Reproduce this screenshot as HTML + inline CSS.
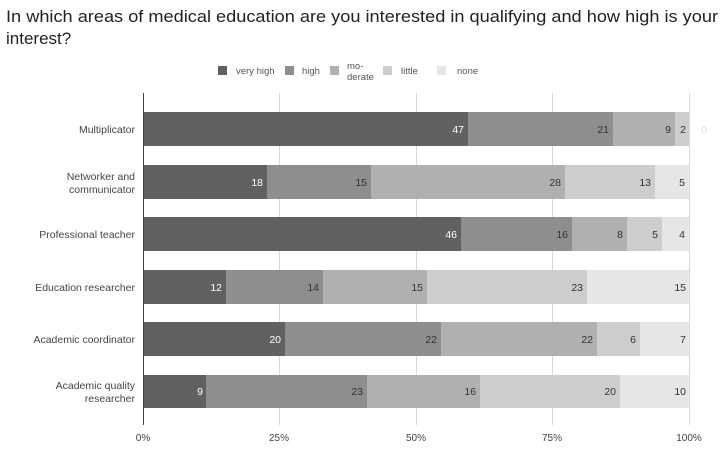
<!DOCTYPE html>
<html><head><meta charset="utf-8"><style>
html,body{margin:0;padding:0;background:#fff;}
svg{display:block;font-family:"Liberation Sans",sans-serif;}
</style></head><body>
<svg width="724" height="450" viewBox="0 0 724 450" xmlns="http://www.w3.org/2000/svg">
<text x="6" y="22" font-size="17" fill="#222" textLength="712" lengthAdjust="spacingAndGlyphs">In which areas of medical education are you interested in qualifying and how high is your</text>
<text x="6" y="44" font-size="17" fill="#222">interest?</text>
<!-- legend -->
<g font-size="9.5" fill="#555">
<rect x="218" y="66" width="9" height="9" fill="#616161"/><text x="236" y="74">very high</text>
<rect x="285" y="66" width="9" height="9" fill="#8e8e8e"/><text x="302" y="74">high</text>
<rect x="330" y="66" width="9" height="9" fill="#b0b0b0"/><text x="347" y="69">mo-</text><text x="347" y="80">derate</text>
<rect x="383" y="66" width="9" height="9" fill="#cdcdcd"/><text x="401" y="74">little</text>
<rect x="437" y="66" width="9" height="9" fill="#e6e6e6"/><text x="457" y="74">none</text>
</g>
<!-- grid -->
<g stroke="#d8d8d8" stroke-width="1">
<line x1="279.5" y1="93" x2="279.5" y2="425"/>
<line x1="416.5" y1="93" x2="416.5" y2="425"/>
<line x1="552.5" y1="93" x2="552.5" y2="425"/>
<line x1="689.5" y1="93" x2="689.5" y2="425"/>
</g>
<g font-size="10.5" text-anchor="end">
<!-- row1 -->
<rect x="143" y="112" width="325" height="34" fill="#616161"/>
<rect x="468" y="112" width="145" height="34" fill="#8e8e8e"/>
<rect x="613" y="112" width="62" height="34" fill="#b0b0b0"/>
<rect x="675" y="112" width="14" height="34" fill="#cdcdcd"/>
<text x="464" y="133" fill="#fff">47</text><text x="609" y="133" fill="#333">21</text><text x="671" y="133" fill="#333">9</text><text x="686" y="133" fill="#333">2</text><text x="707" y="133" fill="#ddd">0</text>
<!-- row2 -->
<rect x="143" y="165" width="124" height="34" fill="#616161"/>
<rect x="267" y="165" width="104" height="34" fill="#8e8e8e"/>
<rect x="371" y="165" width="194" height="34" fill="#b0b0b0"/>
<rect x="565" y="165" width="90" height="34" fill="#cdcdcd"/>
<rect x="655" y="165" width="34" height="34" fill="#e6e6e6"/>
<text x="263" y="186" fill="#fff">18</text><text x="367" y="186" fill="#333">15</text><text x="561" y="186" fill="#333">28</text><text x="651" y="186" fill="#333">13</text><text x="685" y="186" fill="#333">5</text>
<!-- row3 -->
<rect x="143" y="217" width="318" height="34" fill="#616161"/>
<rect x="461" y="217" width="111" height="34" fill="#8e8e8e"/>
<rect x="572" y="217" width="55" height="34" fill="#b0b0b0"/>
<rect x="627" y="217" width="35" height="34" fill="#cdcdcd"/>
<rect x="662" y="217" width="27" height="34" fill="#e6e6e6"/>
<text x="457" y="238" fill="#fff">46</text><text x="568" y="238" fill="#333">16</text><text x="623" y="238" fill="#333">8</text><text x="658" y="238" fill="#333">5</text><text x="685" y="238" fill="#333">4</text>
<!-- row4 -->
<rect x="143" y="270" width="83" height="34" fill="#616161"/>
<rect x="226" y="270" width="97" height="34" fill="#8e8e8e"/>
<rect x="323" y="270" width="104" height="34" fill="#b0b0b0"/>
<rect x="427" y="270" width="160" height="34" fill="#cdcdcd"/>
<rect x="587" y="270" width="102" height="34" fill="#e6e6e6"/>
<text x="222" y="291" fill="#fff">12</text><text x="319" y="291" fill="#333">14</text><text x="423" y="291" fill="#333">15</text><text x="583" y="291" fill="#333">23</text><text x="686" y="291" fill="#333">15</text>
<!-- row5 -->
<rect x="143" y="322" width="142" height="34" fill="#616161"/>
<rect x="285" y="322" width="156" height="34" fill="#8e8e8e"/>
<rect x="441" y="322" width="156" height="34" fill="#b0b0b0"/>
<rect x="597" y="322" width="43" height="34" fill="#cdcdcd"/>
<rect x="640" y="322" width="49" height="34" fill="#e6e6e6"/>
<text x="281" y="343" fill="#fff">20</text><text x="437" y="343" fill="#333">22</text><text x="593" y="343" fill="#333">22</text><text x="636" y="343" fill="#333">6</text><text x="686" y="343" fill="#333">7</text>
<!-- row6 -->
<rect x="143" y="375" width="63" height="33" fill="#616161"/>
<rect x="206" y="375" width="161" height="33" fill="#8e8e8e"/>
<rect x="367" y="375" width="113" height="33" fill="#b0b0b0"/>
<rect x="480" y="375" width="140" height="33" fill="#cdcdcd"/>
<rect x="620" y="375" width="69" height="33" fill="#e6e6e6"/>
<text x="203" y="395" fill="#fff">9</text><text x="363" y="395" fill="#333">23</text><text x="476" y="395" fill="#333">16</text><text x="616" y="395" fill="#333">20</text><text x="686" y="395" fill="#333">10</text>
</g>
<line x1="143.5" y1="93" x2="143.5" y2="425" stroke="#444" stroke-width="1"/>
<!-- category labels -->
<g font-size="10.5" fill="#444" text-anchor="end">
<text x="135" y="133">Multiplicator</text>
<text x="135" y="180">Networker and</text><text x="135" y="193">communicator</text>
<text x="135" y="238">Professional teacher</text>
<text x="135" y="291">Education researcher</text>
<text x="135" y="343">Academic coordinator</text>
<text x="135" y="389">Academic quality</text><text x="135" y="402">researcher</text>
</g>
<g font-size="10" fill="#444" text-anchor="middle">
<text x="143" y="441">0%</text><text x="279" y="441">25%</text><text x="416" y="441">50%</text><text x="552" y="441">75%</text><text x="689" y="441">100%</text>
</g>
</svg>
</body></html>
